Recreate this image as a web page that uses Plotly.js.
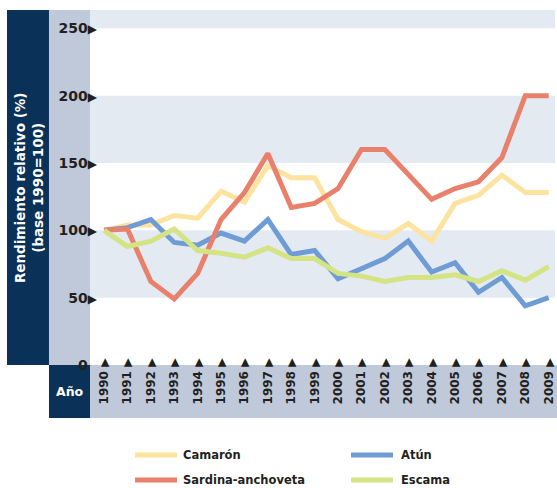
<!DOCTYPE html>
<html>
<head>
<meta charset="utf-8">
<script src="https://cdn.plot.ly/plotly-3.0.1.min.js"></script>
<style>
html,body{margin:0;padding:0;background:#fff;}
#chart{width:557px;height:488px;}
</style>
</head>
<body>
<div id="chart"></div>
<script>
// ---- data ----
const years = [1990,1991,1992,1993,1994,1995,1996,1997,1998,1999,2000,2001,2002,2003,2004,2005,2006,2007,2008,2009];
const camaron = [100,104,104,111,109,129,121,148,139,139,108,99,94,105,92,120,126,141,128,128];
const atun    = [100,102,108,91,89,98,92,108,82,85,64,71,79,92,69,76,54,65,44,50];
const sardina = [100,101,62,49,68,108,128,157,117,120,131,160,160,141,123,131,136,154,200,200];
const escama  = [100,88,92,101,85,83,80,87,79,79,68,66,62,65,65,67,62,70,63,73];
const seriesNames = ["Camarón","Atún","Sardina-anchoveta","Escama"];
const yTickVals = [0,50,100,150,200,250];
const bandRanges = [[50,100],[150,200],[250,270]];
const yTitle = "Rendimiento relativo (%)<br>(base 1990=100)";
const xTitle = "Año";

// ---- styling ----
const NAVY = "#0a3258", GRAY = "#bfc9d9", BAND = "#e4eaf1", INK = "#231f20";
const FONT = "DejaVu Sans";
const colors = ["#fde3a0","#6f9cd4","#e9806c","#d4e384"];

const yTickText = yTickVals.map(v => v === 0
  ? "0<span style='font-size:12px;fill:rgba(0,0,0,0)'>▶</span>"
  : v + "<span style='font-size:12px'>▶</span>");
const xTickText = years.map(y => y + " <span style='font-size:11px'>▶</span>");

function tr(yv, i){
  return {x: years, y: yv, name: seriesNames[i], type: "scatter", mode: "lines",
    line: {color: colors[i], width: 5}, showlegend: false, hoverinfo: "skip"};
}
const data = [tr(camaron,0), tr(atun,1), tr(sardina,2), tr(escama,3)];

const shapes = [];
bandRanges.forEach(b => shapes.push({type:"rect", xref:"paper", yref:"y", x0:0, x1:1, y0:b[0], y1:b[1],
  fillcolor: BAND, line:{width:0}, layer:"below"}));
// side and bottom frames
shapes.push({type:"rect", xref:"paper", yref:"paper", x0:-0.1785, x1:-0.0882, y0:0, y1:1, fillcolor:NAVY, line:{width:0}, layer:"below"});
shapes.push({type:"rect", xref:"paper", yref:"paper", x0:-0.0882, x1:0, y0:0, y1:1, fillcolor:GRAY, line:{width:0}, layer:"below"});
shapes.push({type:"rect", xref:"paper", yref:"paper", x0:-0.0882, x1:0, y0:-0.1493, y1:0, fillcolor:NAVY, line:{width:0}, layer:"below"});
shapes.push({type:"rect", xref:"paper", yref:"paper", x0:0, x1:1.01, y0:-0.1493, y1:0, fillcolor:GRAY, line:{width:0}, layer:"below"});

const annotations = [
  {text: yTitle, xref:"paper", yref:"paper", x:-0.132, y:0.5, textangle:-90, showarrow:false,
   xanchor:"center", yanchor:"middle", font:{family:FONT, size:13.5, color:"#ffffff", weight:"bold"}},
  {text: xTitle, xref:"paper", yref:"paper", x:-0.044, y:-0.076, showarrow:false,
   xanchor:"center", yanchor:"middle", font:{family:FONT, size:12.5, color:"#ffffff", weight:"bold"}}
];

// legend (2 x 2 grid) built from series names and colours
const legCol = [{x0:0.0968, x1:0.1871, tx:0.1978}, {x0:0.5613, x1:0.6516, tx:0.6667}];
const legRow = [-0.2535, -0.3239];
seriesNames.forEach((name, i) => {
  const c = legCol[i % 2], r = legRow[Math.floor(i / 2)];
  shapes.push({type:"line", xref:"paper", yref:"paper", x0:c.x0, x1:c.x1, y0:r, y1:r,
    line:{color: colors[i], width:5}, layer:"above"});
  annotations.push({text: name, xref:"paper", yref:"paper", x:c.tx, y:r, showarrow:false,
    xanchor:"left", yanchor:"middle", borderpad:0, font:{family:FONT, size:11.5, color:INK, weight:"bold"}});
});

const layout = {
  width: 557, height: 488,
  margin: {l:90, r:2, t:10, b:123, autoexpand:false},
  paper_bgcolor: "#ffffff", plot_bgcolor: "rgba(0,0,0,0)",
  showlegend: false,
  xaxis: {range:[1989.4, 2009.27], tickvals: years, ticktext: xTickText, tickangle:-90,
    showgrid:false, zeroline:false, showline:false, ticks:"", automargin:false,
    ticklabelstandoff:-10, tickfont:{family:FONT, size:12, color:INK, weight:"bold"}},
  yaxis: {range:[0, 263.6], tickvals: yTickVals, ticktext: yTickText,
    showgrid:false, zeroline:false, showline:false, ticks:"", automargin:false,
    ticklabelstandoff:-8, tickfont:{family:FONT, size:14, color:INK, weight:"bold"}},
  shapes: shapes,
  annotations: annotations
};

Plotly.newPlot("chart", data, layout, {displayModeBar:false, staticPlot:true});
</script>
</body>
</html>
